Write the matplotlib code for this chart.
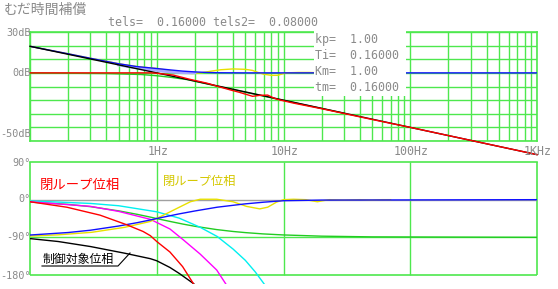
import matplotlib
matplotlib.use('Agg')
import matplotlib.pyplot as plt
import numpy as np
from matplotlib.ticker import LogLocator, MultipleLocator, NullFormatter
from matplotlib.transforms import blended_transform_factory
from matplotlib.patches import Rectangle
from matplotlib.lines import Line2D

# ---------------- data ----------------
title_text = "むだ時間補償"
param_line = "tels=  0.16000 tels2=  0.08000"
param_box = ["kp=  1.00", "Ti=  0.16000", "Km=  1.00", "tm=  0.16000"]
freq_ticks = [1, 10, 100, 1000]
freq_labels = ["1Hz", "10Hz", "100Hz", "1KHz"]
gain_labels = ["30dB", "0dB", "-50dB"]
phase_labels = ["90°", "0°", "-90°", "-180°"]

# gain curves (Hz, dB)
f_black_g = [0.1, 1, 10, 100, 1000]
g_black = [19.5, 0, -20, -40, -60]

f_blue_g = [0.1, 0.2, 0.3, 0.5, 0.7, 1.0, 1.3, 1.6, 2.0, 2.5, 3.0, 5.0, 10, 1000]
g_blue = [19.5, 14.0, 10.7, 6.7, 4.6, 3.2, 2.1, 1.3, 0.7, 0.3, 0.1, 0, 0, 0]

f_lav_g = [0.5, 0.7, 1.0, 1.3, 1.6, 2.0]
g_lav = [5.8, 3.6, 1.8, 0.6, 0.1, 0.0]

f_green_g = [0.1, 0.4, 0.75, 1.0, 1.3, 1.75, 2.2, 3.0, 4.0, 6.0, 10, 30]
g_green = [0, -0.5, -1.2, -2.1, -3.3, -5.0, -7.0, -9.8, -12.3, -15.8, -20.2, -29.6]

f_yellow_g = [0.1, 0.2, 0.3, 0.5, 0.7, 1.0, 1.3, 1.6, 1.9, 2.3, 2.7, 3.2, 4.0, 5.0,
              5.7, 6.3, 7.0, 8.0, 9.0, 9.6, 10.5, 13, 16, 20]
g_yellow = [19.5, 14.0, 10.7, 6.7, 4.6, 3.2, 1.5, 0.0, -0.5, 0.2, 1.3, 2.3, 2.9, 2.6,
            1.8, 0.3, -1.0, -1.8, -1.8, -1.0, 0.0, 0.3, 0.3, 0.0]

f_red_g = [0.1, 0.9, 1.0, 1.35, 1.8, 2.5, 3.0, 3.8, 4.5, 5.7, 6.5, 7.5, 8.3, 9.0,
           10, 12, 15, 20, 30, 50, 100, 1000]
g_red = [0, 0, -0.3, -1.6, -4.6, -7.6, -9.8, -12.5, -14.3, -17.2, -16.5, -16.3, -18.3,
         -19.5, -20.5, -22.2, -24.0, -26.3, -29.8, -34.2, -40.0, -60.0]

# phase curves (Hz, deg)
f_black_p = [0.1, 0.167, 0.3, 0.56, 0.89, 1.0, 1.27, 1.5, 1.94, 2.2]
p_black = [-93, -100, -112, -128, -141, -146, -162, -176, -200, -215]

f_red_p = [0.1, 0.195, 0.357, 0.58, 0.78, 0.89, 1.0, 1.27, 1.6, 1.94, 2.2]
p_red = [-5, -18, -37, -60, -76, -86, -100, -125, -160, -200, -230]

f_mag_p = [0.1, 0.3, 0.5, 0.89, 1.27, 1.62, 2.2, 2.97, 3.57, 4.0]
p_mag = [-5, -16, -28, -47, -70, -96, -130, -168, -205, -230]

f_cyan_p = [0.1, 0.3, 0.5, 1.0, 1.5, 2.2, 3.0, 4.0, 5.0, 6.0, 7.1, 8.0]
p_cyan = [-3, -9, -14.5, -29, -44, -66, -88, -118, -145, -173, -203, -230]

f_green_p = [0.1, 0.2, 0.3, 0.5, 0.7, 0.89, 1.0, 1.3, 1.62, 2.0, 2.97, 4.0, 5.0, 6.9,
             10, 20, 50, 1000]
p_green = [-5.7, -11.3, -16.7, -26.7, -35, -41.7, -45.2, -52.6, -58.5, -63.6, -71.5,
           -76, -78.7, -81.8, -84.3, -87.2, -88.9, -90]

f_blue_p = [0.1, 0.2, 0.3, 0.5, 0.7, 0.89, 1.0, 1.5, 2.0, 3.0, 5.0, 7.0, 10, 20, 1000]
p_blue = [-84.5, -78.5, -73, -63, -55, -48.5, -45, -34, -27, -18, -10, -6, -2.5, -1, 0]

f_yellow_p = [0.1, 0.167, 0.307, 0.56, 0.89, 1.13, 1.44, 1.84, 2.2, 2.97, 4.0, 5.1,
              6.5, 7.5, 8.8, 10, 12, 15, 17, 18.5, 20, 23, 30, 40, 50, 60, 70]
p_yellow = [-87, -84, -78, -66, -52, -37, -21, -5, 1, 1, -5, -16, -22, -18, -6, 0, 1,
            0, -3, -5, -3, 0, -1, 0, -1, 0, 0]

# ---------------- styles ----------------
W, H = 558, 289
GRID = '#4ee84e'
GRAYTXT = '#8a8a8a'
MONO = 'DejaVu Sans Mono'
CJK = ['Noto Sans CJK JP', 'DejaVu Sans']
C_RED, C_BLUE, C_BLACK = '#ff0000', '#1010ff', '#000000'
C_GREEN, C_YEL, C_CYAN, C_MAG = '#22cc22', '#e8e000', '#00f0f0', '#ff00ff'
LW = 1.0

fig = plt.figure(figsize=(W / 100, H / 100), dpi=100)
fig.patch.set_facecolor('white')


def fx(x):
    return x / W


def fy(y):
    return 1 - y / H


def ax_px(x0, y0, x1, y1):
    return fig.add_axes([fx(x0), fy(y1), (x1 - x0) / W, (y1 - y0) / H])


# ---------------- gain panel ----------------
ax1 = ax_px(30, 32, 537, 141)
ax1.set_xscale('log')
ax1.set_xlim(0.1, 1000)
ax1.set_ylim(-50, 30)
ax1.xaxis.set_major_locator(LogLocator(base=10, numticks=20))
ax1.xaxis.set_minor_locator(LogLocator(base=10, subs=np.arange(2, 10), numticks=40))
ax1.xaxis.set_minor_formatter(NullFormatter())
ax1.yaxis.set_major_locator(MultipleLocator(10))
ax1.tick_params(which='both', length=0, labelbottom=False, labelleft=False)
ax1.grid(True, which='both', axis='x', color=GRID, lw=1.0)
ax1.grid(True, which='major', axis='y', color=GRID, lw=1.0)
ax1.set_axisbelow(True)
for s in ax1.spines.values():
    s.set_color(GRID)
    s.set_linewidth(1.2)

ax1.plot(f_green_g, g_green, color=C_GREEN, lw=LW, zorder=3)
ax1.plot(f_yellow_g, g_yellow, color=C_YEL, lw=LW, zorder=3)
ax1.plot(f_lav_g, g_lav, color='#a8a8ff', lw=2.0, zorder=3)
ax1.plot(f_blue_g, g_blue, color=C_BLUE, lw=LW, zorder=4)
ax1.plot(f_black_g, g_black, color=C_BLACK, lw=LW, zorder=4, clip_on=False)
ax1.plot(f_red_g, g_red, color=C_RED, lw=LW, zorder=5, clip_on=False)

# ---------------- phase panel ----------------
ax2 = ax_px(30, 162, 537, 284)
ax2.set_xscale('log')
ax2.set_xlim(0.1, 1000)
ax2.set_ylim(-201.5, 90)
ax2.set_xticks([])
ax2.set_yticks([])
ax2.minorticks_off()
for k in ['bottom', 'left', 'right']:
    ax2.spines[k].set_visible(False)
ax2.spines['top'].set_color(GRID)
ax2.spines['top'].set_linewidth(1.2)
ax2.vlines([0.1, 1000], -180, 90, colors=GRID, lw=1.2, clip_on=False, zorder=1)
ax2.hlines([-180], 0.1, 1000, colors=GRID, lw=1.2, clip_on=False, zorder=1)
ax2.vlines(freq_ticks[:-1], -180, 90, colors=GRID, lw=1.0, zorder=1)
ax2.hlines([-90], 0.1, 1000, colors=GRID, lw=1.0, zorder=1)
ax2.hlines([0], 0.1, 1000, colors='#a0a0a0', lw=1.0, zorder=1)

ax2.plot(f_green_p, p_green, color=C_GREEN, lw=LW, zorder=3)
ax2.plot(f_cyan_p, p_cyan, color=C_CYAN, lw=LW, zorder=3)
ax2.plot(f_mag_p, p_mag, color=C_MAG, lw=LW, zorder=3)
ax2.plot(f_yellow_p, p_yellow, color=C_YEL, lw=LW, zorder=3)
ax2.plot(f_blue_p, p_blue, color=C_BLUE, lw=LW, zorder=4)
ax2.plot(f_black_p, p_black, color=C_BLACK, lw=LW, zorder=4)
ax2.plot(f_red_p, p_red, color=C_RED, lw=LW, zorder=5)

# ---------------- texts ----------------
fig.text(fx(4), fy(10), title_text, family=CJK, fontsize=10, color=GRAYTXT,
         ha='left', va='center')
fig.text(fx(108), fy(22), param_line, family=MONO, fontsize=8.4, color=GRAYTXT,
         ha='left', va='center')

# white box with parameters
fig.add_artist(Rectangle((fx(314), fy(96)), (406 - 314) / W, (96 - 30) / H,
                         transform=fig.transFigure, facecolor='white',
                         edgecolor='none', zorder=10))
for i, s in enumerate(param_box):
    fig.text(fx(315), fy(39 + 16.3 * i), s, family=MONO, fontsize=8.4,
             color=GRAYTXT, ha='left', va='center', zorder=11)

# gain labels (pixel rows of the reference)
for ypix, s in zip([33, 73, 134], gain_labels):
    fig.text(fx(30.5), fy(ypix), s, family=MONO, fontsize=7.3, color=GRAYTXT,
             ha='right', va='center')

# frequency labels
trf = blended_transform_factory(ax1.transData, fig.transFigure)
for f, s in zip(freq_ticks, freq_labels):
    fig.text(f * 1.02, fy(151.5), s, transform=trf, family=MONO, fontsize=8.4,
             color=GRAYTXT, ha='center', va='center')

# phase labels
for ypix, s in zip([163, 199, 237, 276], phase_labels):
    fig.text(fx(30.5), fy(ypix), s, family=MONO, fontsize=7.3, color=GRAYTXT,
             ha='right', va='center')

# curve annotations
fig.text(fx(40), fy(185), "閉ループ位相", family=CJK, fontsize=9.6, color='#ff0000',
         ha='left', va='center')
fig.text(fx(163), fy(181), "閉ループ位相", family=CJK, fontsize=8.8, color='#d4c800',
         ha='left', va='center')
fig.text(fx(43), fy(259), "制御対象位相", family=CJK, fontsize=8.6, color='#000000',
         ha='left', va='center')
fig.add_artist(Line2D([fx(42), fx(118), fx(130)], [fy(266), fy(266), fy(253)],
                      transform=fig.transFigure, color='#000000', lw=0.8))

fig.savefig('out.png', dpi=100, facecolor='white')
